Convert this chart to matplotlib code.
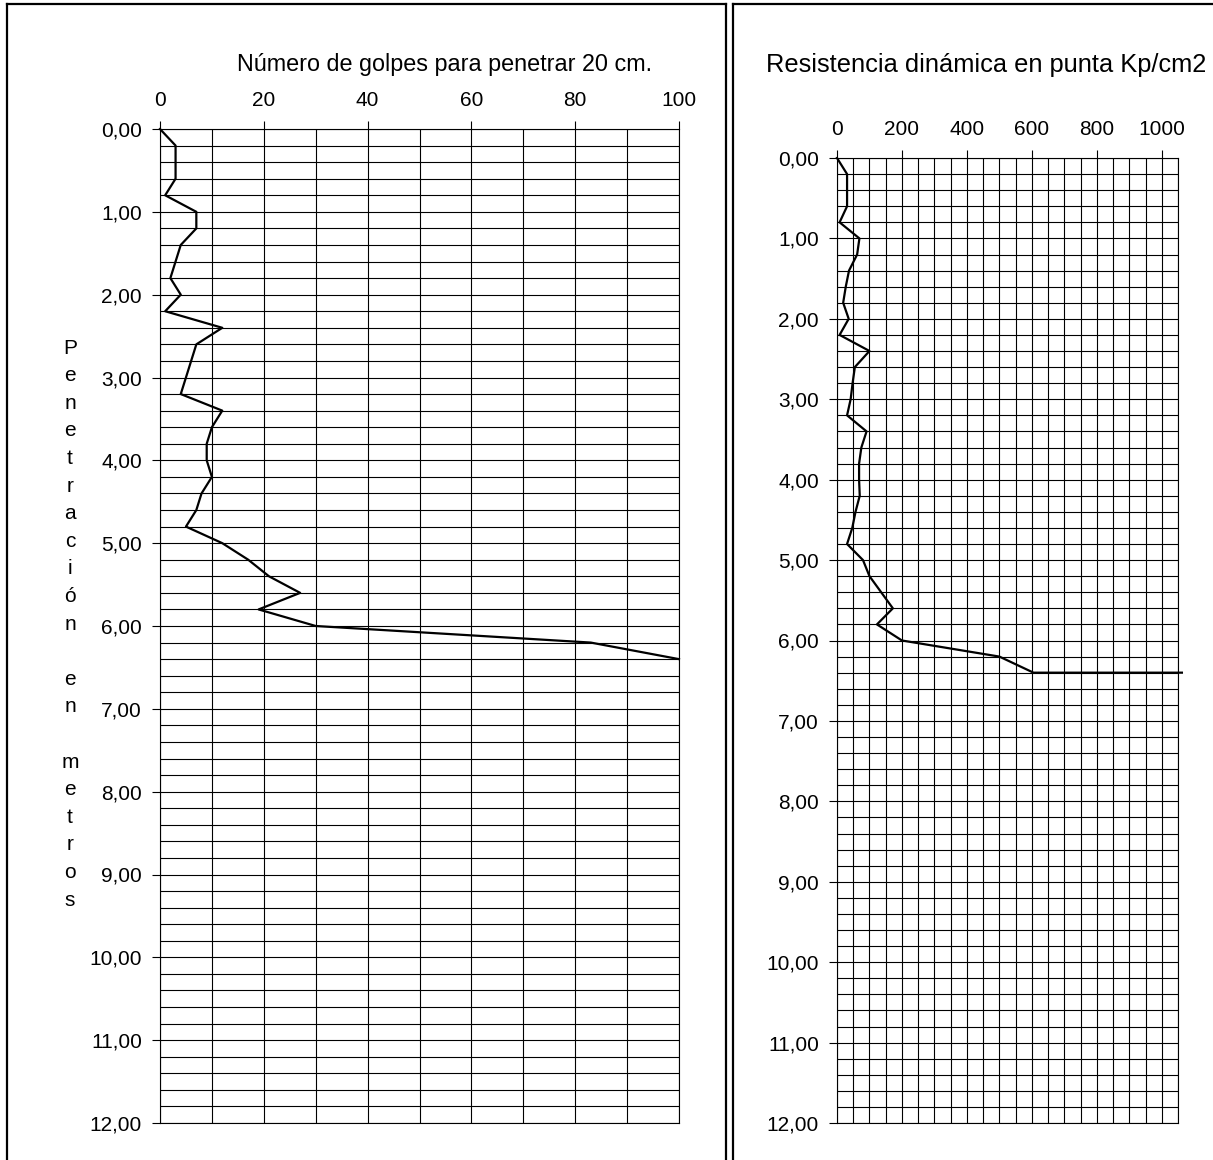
import matplotlib
matplotlib.use("Agg")
import matplotlib.pyplot as plt
from matplotlib.lines import Line2D
from matplotlib.ticker import MultipleLocator, FuncFormatter

plt.rcParams['font.family'] = ['Liberation Sans', 'DejaVu Sans']

# depth of each reading (m)
profundidad = [0.0, 0.2, 0.4, 0.6, 0.8, 1.0, 1.2, 1.4, 1.6, 1.8, 2.0, 2.2, 2.4,
               2.6, 2.8, 3.0, 3.2, 3.4, 3.6, 3.8, 4.0, 4.2, 4.4, 4.6, 4.8, 5.0,
               5.2, 5.4, 5.6, 5.8, 6.0, 6.2, 6.4]
# blows to penetrate 20 cm
golpes = [0, 3, 3, 3, 1, 7, 7, 4, 3, 2, 4, 1, 12,
          7, 6, 5, 4, 12, 10, 9, 9, 10, 8, 7, 5, 12,
          17, 21, 27, 19, 30, 83, 100]
# dynamic tip resistance (Kp/cm2), last point = refusal
prof_res = profundidad + [6.4]
resistencia = [0, 31, 31, 31, 8, 69, 62, 37, 27, 19, 36, 8, 100,
               55, 48, 42, 31, 91, 75, 68, 68, 70, 57, 47, 31, 80,
               100, 136, 172, 123, 200, 500, 605, 1062]

titulo_izq = 'Número de golpes para penetrar 20 cm.'
titulo_der = 'Resistencia dinámica en punta Kp/cm2'
etiqueta_y = 'Penetración en metros'

W, H = 1213, 1160
fig = plt.figure(figsize=(W / 100, H / 100), dpi=100)

fmt_m = FuncFormatter(lambda v, p: f'{v:.2f}'.replace('.', ','))
fs = 15


def style(ax, xmax, xmaj, xmin):
    ax.set_xlim(0, xmax)
    ax.set_ylim(12, 0)
    ax.xaxis.set_major_locator(MultipleLocator(xmaj))
    ax.xaxis.set_minor_locator(MultipleLocator(xmin))
    ax.yaxis.set_major_locator(MultipleLocator(1))
    ax.yaxis.set_minor_locator(MultipleLocator(0.2))
    ax.yaxis.set_major_formatter(fmt_m)
    ax.xaxis.tick_top()
    ax.tick_params(which='major', length=6, width=0.8, pad=7, labelsize=fs)
    ax.tick_params(axis='x', which='major', pad=8)
    ax.tick_params(which='minor', length=0)
    ax.grid(which='both', color='black', linewidth=0.8)
    for s in ax.spines.values():
        s.set_linewidth(0.8)


ax1 = fig.add_axes([160 / W, (H - 1123) / H, 519 / W, 994 / H])
style(ax1, 100, 20, 10)
ax1.plot(golpes, profundidad, color='black', lw=1.6, clip_on=False, zorder=5)

ax2 = fig.add_axes([837 / W, (H - 1123) / H, 341 / W, 965 / H])
style(ax2, 1050, 200, 50)
ax2.plot(resistencia, prof_res, color='black', lw=1.6, clip_on=False, zorder=5)

fig.text(444.5 / W, 1 - 65 / H, titulo_izq, ha='center', va='center', fontsize=16.8)
fig.text(986 / W, 1 - 65 / H, titulo_der, ha='center', va='center', fontsize=18.3)

# vertical stacked y label
y0 = 348
for i, ch in enumerate(etiqueta_y.replace(' ', '  ').replace('  ', ' ')):
    if ch != ' ':
        fig.text(70 / W, 1 - (y0 + i * 27.6) / H, ch, ha='center', va='center', fontsize=fs)

# panel borders
def vline(x):
    fig.add_artist(Line2D([x / W, x / W], [0, 1 - 4 / H], color='black', lw=1.6))

def hline(x0, x1):
    fig.add_artist(Line2D([x0 / W, x1 / W], [1 - 4 / H, 1 - 4 / H], color='black', lw=1.6))

vline(7)
vline(726)
hline(7, 726)
vline(733)
hline(733, W)

fig.savefig('out.png', dpi=100)
